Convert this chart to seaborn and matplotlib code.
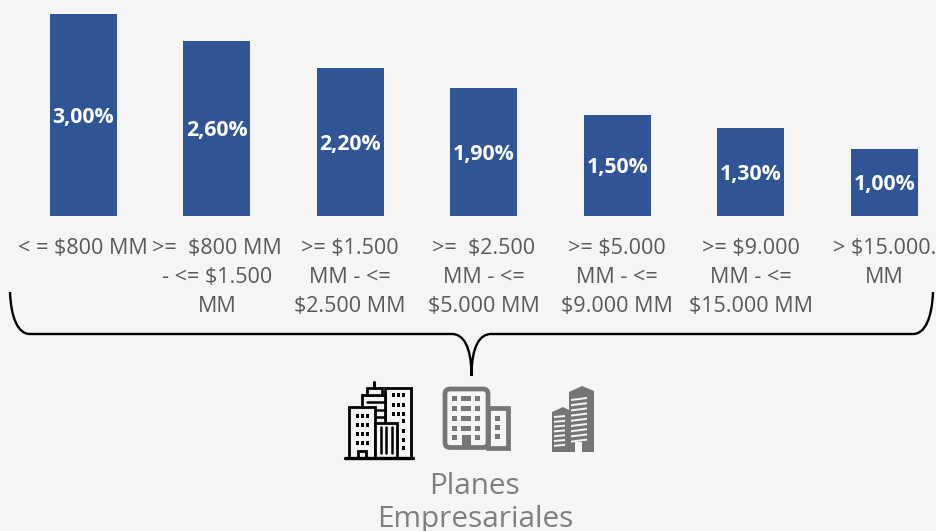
import matplotlib
matplotlib.use("Agg")
import matplotlib.pyplot as plt
from matplotlib.patches import Rectangle, Polygon, PathPatch, FancyBboxPatch
from matplotlib.path import Path
import pandas as pd
import seaborn as sns

categories = ["< = $800 MM", ">=  $800 MM\n- <= $1.500\nMM", ">= $1.500\nMM - <=\n$2.500 MM",
              ">=  $2.500\nMM - <=\n$5.000 MM", ">= $5.000\nMM - <=\n$9.000 MM",
              ">= $9.000\nMM - <=\n$15.000 MM", "> $15.000.\nMM"]
rates = [3.0, 2.6, 2.2, 1.9, 1.5, 1.3, 1.0]
rate_labels = ["3,00%", "2,60%", "2,20%", "1,90%", "1,50%", "1,30%", "1,00%"]
y_ticks = [0, 0.5, 1, 1.5, 2, 2.5, 3]

BG = "#f5f5f5"
BLUE = "#2f5597"
GREY = "#757575"
W, H = 936, 531

sns.set_theme(style="white", rc={"figure.facecolor": BG, "axes.facecolor": BG})
plt.rcParams["font.family"] = ["Open Sans", "DejaVu Sans"]

fig = plt.figure(figsize=(W / 100, H / 100), dpi=100)
ax = fig.add_axes([16.5 / W, 1 - 216 / H, 934.5 / W, 202 / H])
df = pd.DataFrame({"tramo": categories, "tasa": rates})
sns.barplot(data=df, x="tramo", y="tasa", color=BLUE, saturation=1, width=0.5, linewidth=0, ax=ax)
ax.set_xlim(-0.5, 6.5)
ax.set_ylim(0, 3)
ax.bar_label(ax.containers[0], labels=rate_labels, label_type="center", padding=-1.5,
             color="white", fontsize=15.3, fontweight="bold")
ax.set_xlabel("")
ax.set_ylabel("")
ax.set_yticks(y_ticks)
ax.set_yticklabels([])
ax.tick_params(axis="y", left=True, length=7, width=1, color="#f9f9f9")
ax.tick_params(axis="x", length=0, pad=16, labelsize=15.5, labelcolor="#595959")
for t in ax.get_xticklabels():
    t.set_linespacing(1.5)
sns.despine(ax=ax, left=True, bottom=True)

# overlay in pixel coords for the brace and icons
ov = fig.add_axes([0, 0, 1, 1], facecolor="none")
ov.set_xlim(0, W)
ov.set_ylim(H, 0)
ov.axis("off")

brace = Path(
    [(10, 292), (11, 318), (18, 334), (30, 334), (452, 334), (463, 334), (471.5, 346), (471.5, 376),
     (471.5, 346), (480, 334), (491, 334), (913, 334), (925, 334), (932, 318), (933, 292)],
    [Path.MOVETO, Path.CURVE4, Path.CURVE4, Path.CURVE4, Path.LINETO, Path.CURVE4, Path.CURVE4, Path.CURVE4,
     Path.CURVE4, Path.CURVE4, Path.CURVE4, Path.LINETO, Path.CURVE4, Path.CURVE4, Path.CURVE4])
ov.add_patch(PathPatch(brace, fc="none", ec="black", lw=1.7))


def outline(x0, y0, x1, y1, ec="black", fc=BG, lw=2.0, z=2):
    ov.add_patch(Rectangle((x0, y0), x1 - x0, y1 - y0, fc=fc, ec=ec, lw=lw, zorder=z))


def dots(xs, ys, w, h, color, z=3):
    for x in xs:
        for y in ys:
            ov.add_patch(Rectangle((x, y), w, h, fc=color, ec="none", zorder=z))


# icon 1, outlined city
outline(385, 388, 411, 458, z=2)
dots([391.5, 396.5, 401.5], [393, 403, 411.5], 3, 4, "black")
dots([401.5], [419, 429, 438, 446], 3, 4, "black")
outline(362, 395, 385, 440, z=2)
outline(367, 388, 382, 395, z=2)
ov.plot([374, 374], [382, 388], color="black", lw=2.2, zorder=2)
for y in [402, 410, 417]:
    ov.plot([367, 384], [y, y], color="black", lw=1.8, zorder=2)
outline(349, 407, 375, 458, z=4)
dots([355.5, 360.5, 365.5], [414, 423, 432, 441], 3, 4, "black", z=5)
outline(358, 451, 366, 458, z=5)
outline(375, 423, 397, 458, z=4)
for x in [381, 386, 392]:
    ov.plot([x, x], [427, 453], color="black", lw=1.8, zorder=5)
ov.plot([345, 413], [458, 458], color="black", lw=2.4, zorder=6)

# icon 2, solid outline office
outline(488, 407.5, 507.5, 447.5, ec=GREY, lw=3.4, z=2)
ov.add_patch(FancyBboxPatch((445, 389), 43, 58.5, boxstyle="round,pad=0,rounding_size=5",
                            fc=BG, ec=GREY, lw=3.4, zorder=2))
dots([452, 475], [396, 406, 416, 426, 435], 5, 4.5, GREY)
dots([461], [396, 406, 416, 426], 10, 4.5, GREY)
dots([495], [416, 425, 434], 5, 4.5, GREY)
ov.add_patch(Rectangle((462, 435), 9, 13, fc=GREY, ec="none", zorder=3))

# icon 3, filled towers
ov.add_patch(Polygon([(569, 392), (582, 386), (594, 391), (594, 452), (569, 452)], fc=GREY, ec="none", zorder=2))
ov.add_patch(Polygon([(552, 412), (563, 407), (569, 410), (569, 452), (552, 452)], fc=GREY, ec="none", zorder=2))
for i in range(9):
    y = 397 + i * 5.2
    ov.add_patch(Polygon([(571, y + 2), (587, y), (587, y + 2), (571, y + 4)], fc=BG, ec="none", zorder=3))
for i in range(7):
    y = 415 + i * 4.8
    ov.add_patch(Polygon([(554, y + 1), (565, y), (565, y + 2), (554, y + 3)], fc=BG, ec="none", zorder=3))
ov.add_patch(Rectangle((575, 442), 7, 10, fc=BG, ec="none", zorder=3))

ov.text(475, 487, "Planes", ha="center", va="center", color="#7f7f7f", fontsize=21.4)
ov.text(475, 520, "Empresariales", ha="center", va="center", color="#7f7f7f", fontsize=21.4, clip_on=False)

fig.savefig("out.png", dpi=100, facecolor=BG)
